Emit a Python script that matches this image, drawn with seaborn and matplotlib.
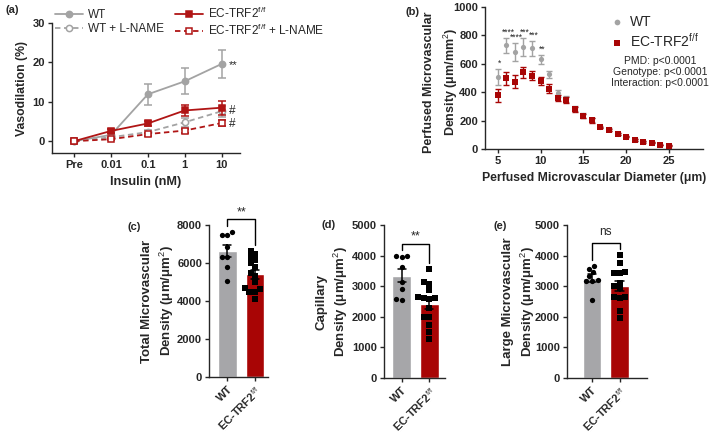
import numpy as np
import pandas as pd
import matplotlib
matplotlib.use("Agg")
import matplotlib.pyplot as plt
import seaborn as sns

# ---- (a) insulin-stimulated vasodilation, mean +/- SEM
doses = ["Pre", "0.01", "0.1", "1", "10"]
wt_vaso = [0, 1.6, 11.9, 15.2, 19.6]
wt_vaso_se = [0, 0.4, 2.6, 3.3, 3.6]
wt_lname_vaso = [0, 1.0, 2.3, 4.8, 7.6]
wt_lname_se = [0, 0.3, 0.5, 1.2, 1.4]
ec_vaso = [0, 2.6, 4.5, 7.8, 8.5]
ec_vaso_se = [0, 0.5, 0.6, 1.3, 1.8]
ec_lname_vaso = [0, 0.5, 1.8, 2.7, 4.6]
ec_lname_se = [0, 0.2, 0.4, 0.5, 0.8]

# ---- (b) perfused microvascular density by diameter
diam = list(range(5, 26))
wt_pmd = [509, 730, 684, 719, 708, 631, 526, 393, 352, 283, 236, 203, 153, 138, 107, 87, 64, 50, 45, 29, 24]
wt_pmd_se = [55, 55, 65, 65, 50, 30, 25, 25, 20, 18, 15, 15, 8, 8, 6, 6, 5, 4, 4, 3, 3]
ec_pmd = [379, 498, 475, 540, 516, 479, 426, 359, 347, 280, 234, 201, 152, 136, 105, 86, 63, 49, 44, 28, 23]
ec_pmd_se = [45, 45, 45, 40, 30, 30, 30, 20, 20, 18, 15, 15, 6, 6, 6, 5, 5, 4, 4, 3, 3]
pmd_stars = {5: "*", 6: "****", 7: "****", 8: "***", 9: "***", 10: "**"}

# ---- (c)-(e) individual animals
groups = ["WT", "EC-TRF2$^{\\mathrm{f/f}}$"]
total_wt = [7650, 7470, 7470, 6860, 6330, 6320, 5800, 5050]
total_ec = [6650, 6470, 6330, 6160, 5980, 5800, 5500, 5320, 5020, 4670, 4610, 4490, 4490, 4090]
cap_wt = [3990, 3950, 3990, 3640, 3150, 2910, 2550, 2580]
cap_ec = [3560, 3150, 3070, 2880, 2600, 2580, 2600, 2650, 2280, 2000, 2000, 1730, 1510, 1290]
large_wt = [3560, 3660, 3450, 3330, 3200, 3180, 3180, 2550]
large_ec = [4020, 3770, 3440, 3480, 3420, 3100, 3000, 2930, 2640, 2620, 2660, 2200, 1950]

gray = "#a6a6a9"
gray_line = "#a3a3a3"
red = "#a80505"
red_line = "#b01515"

sns.set_style("ticks")
plt.rcParams["font.family"] = ["Liberation Sans", "DejaVu Sans"]
plt.rcParams["mathtext.fontset"] = "custom"
plt.rcParams["mathtext.rm"] = "Liberation Sans"
plt.rcParams["mathtext.bf"] = "Liberation Sans:bold"
plt.rcParams["axes.linewidth"] = 1.0
plt.rcParams["xtick.major.size"] = 3
plt.rcParams["ytick.major.size"] = 3

W, H = 709, 434
fig = plt.figure(figsize=(W / 100, H / 100), dpi=100)


def add_ax(l, t, r, b):
    return fig.add_axes([l / W, 1 - b / H, (r - l) / W, (b - t) / H])


def style_ticks(ax, size=8):
    for lab in ax.get_xticklabels() + ax.get_yticklabels():
        lab.set_fontweight("bold")
        lab.set_fontsize(size)
    ax.tick_params(width=1, pad=2)


# ================= (a)
ax_a = add_ax(52, 23, 240, 153)
x_idx = np.arange(len(doses))
series_a = [
    ("WT", wt_vaso, wt_vaso_se, gray_line, "-", "o", gray_line),
    ("WT + L-NAME", wt_lname_vaso, wt_lname_se, gray_line, (0, (3, 2)), "o", "white"),
    ("EC-TRF2$^{\\mathrm{f/f}}$", ec_vaso, ec_vaso_se, red_line, "-", "s", red_line),
    ("EC-TRF2$^{\\mathrm{f/f}}$ + L-NAME", ec_lname_vaso, ec_lname_se, red_line, (0, (3, 2)), "s", "white"),
]
for label, y, se, c, ls, m, fc in series_a:
    ax_a.errorbar(x_idx, y, yerr=se, fmt="none", ecolor=c, elinewidth=1.1, capsize=3, capthick=1.1)
    sns.lineplot(x=x_idx, y=y, ax=ax_a, color=c, linestyle=ls, marker=m,
                 markerfacecolor=fc, markeredgecolor=c, markersize=4.5,
                 markeredgewidth=1.1, linewidth=1.3, label=label, legend=False)
ax_a.set_xlim(-0.6, 4.5)
ax_a.set_ylim(-3, 30)
ax_a.set_xticks(x_idx)
ax_a.set_xticklabels(doses)
ax_a.set_yticks([0, 10, 20, 30])
ax_a.set_xlabel("Insulin (nM)", fontsize=9.2, fontweight="bold", labelpad=4)
ax_a.set_ylabel("Vasodilation (%)", fontsize=8.8, fontweight="bold", labelpad=3)
style_ticks(ax_a)
sns.despine(ax=ax_a)
ax_a.text(x_idx[-1] + 0.2, wt_vaso[-1] - 0.3, "**", fontsize=8, va="center", ha="left")
ax_a.text(x_idx[-1] + 0.2, wt_lname_vaso[-1], "#", fontsize=8.5, va="center", ha="left")
ax_a.text(x_idx[-1] + 0.2, ec_lname_vaso[-1] - 0.3, "#", fontsize=8.5, va="center", ha="left")
handles, labels = ax_a.get_legend_handles_labels()
fig.legend(handles, labels, loc="upper left", bbox_to_anchor=(55 / W, 1 - 6 / H),
           ncol=2, frameon=False, fontsize=8.5, handlelength=2.4, handletextpad=0.4,
           columnspacing=0.9, labelspacing=0.15, borderpad=0, borderaxespad=0)
fig.text(5 / W, 1 - 10 / H, "(a)", fontsize=8, fontweight="bold", va="center")

# ================= (b)
bl, bt, br, bb = 485, 7, 703, 149
ax_b = add_ax(bl, bt, br, bb)
ax_b.errorbar(diam, wt_pmd, yerr=wt_pmd_se, fmt="none", ecolor=gray_line, elinewidth=1, capsize=2.5, capthick=1)
sns.scatterplot(x=diam, y=wt_pmd, ax=ax_b, color=gray_line, marker="o", s=14, linewidth=0, label="WT", zorder=3)
ax_b.errorbar(diam, ec_pmd, yerr=ec_pmd_se, fmt="none", ecolor=red, elinewidth=1, capsize=2.5, capthick=1)
sns.scatterplot(x=diam, y=ec_pmd, ax=ax_b, color=red, marker="s", s=16, linewidth=0,
                label="EC-TRF2$^{\\mathrm{f/f}}$", zorder=4)
for d, s in pmd_stars.items():
    i = diam.index(d)
    ax_b.text(d + 0.2, wt_pmd[i] + wt_pmd_se[i] + 8, s, fontsize=6.2, ha="center", va="bottom")
ax_b.set_xlim(3.5, 29)
ax_b.set_ylim(0, 1000)
ax_b.set_xticks([5, 10, 15, 20, 25])
ax_b.set_yticks([0, 200, 400, 600, 800, 1000])
ax_b.set_xlabel("Perfused Microvascular Diameter (μm)", fontsize=8.8, fontweight="bold", labelpad=4)
ax_b.set_ylabel("Perfused Microvascular\nDensity (μm/mm$^2$)", fontsize=9.0, fontweight="bold",
                linespacing=1.5)
ax_b.yaxis.set_label_coords((460 - bl) / (br - bl), 0.47)
style_ticks(ax_b)
sns.despine(ax=ax_b)
ax_b.legend(loc="upper left", bbox_to_anchor=(604 / W, 1 - 8 / H), bbox_transform=fig.transFigure,
            frameon=False, fontsize=10, handlelength=0.8, handletextpad=0.6,
            labelspacing=0.2, borderpad=0, markerscale=1.1)
fig.text(660 / W, 1 - 72 / H, "PMD: p<0.0001\nGenotype: p<0.0001\nInteraction: p<0.0001",
         fontsize=7.5, ha="center", va="center", linespacing=1.1)
fig.text(405 / W, 1 - 12 / H, "(b)", fontsize=8, fontweight="bold", va="center")

# ================= (c)-(e)
bar_panels = [
    ((209, 225, 268, 377), (-0.66, 1.47), total_wt, total_ec, 8000, 2000,
     "Total Microvascular\nDensity (μm/μm$^2$)", "**", 176, (128, 227), "(c)"),
    ((384, 225, 445, 378), (-0.64, 1.57), cap_wt, cap_ec, 5000, 1000,
     "Capillary\nDensity (μm/μm$^2$)", "**", 350, (321, 225), "(d)"),
    ((567, 225, 647, 378), (-0.91, 2.0), large_wt, large_ec, 5000, 1000,
     "Large Microvascular\nDensity (μm/μm$^2$)", "ns", 537, (494, 226), "(e)"),
]
for rect, xl, v_wt, v_ec, ymax, ystep, ylab, sig, ylab_x, lab_pos, lab in bar_panels:
    ax = add_ax(*rect)
    df = pd.DataFrame({
        "group": [groups[0]] * len(v_wt) + [groups[1]] * len(v_ec),
        "value": v_wt + v_ec,
    })
    sns.barplot(data=df, x="group", y="value", hue="group", order=groups, hue_order=groups,
                palette=[gray, red], saturation=1, errorbar="se", capsize=0.3, width=0.67,
                legend=False, err_kws={"color": "black", "linewidth": 1.1}, ax=ax)
    for g, m in zip(groups, ["o", "s"]):
        sns.swarmplot(data=df[df["group"] == g], x="group", y="value", order=groups,
                      color="black", marker=m, size=3.8, ax=ax, zorder=5)
    ax.set_xlim(*xl)
    ax.set_ylim(0, ymax)
    ax.set_yticks(np.arange(0, ymax + 1, ystep))
    ax.set_xlabel("")
    ax.set_ylabel(ylab, fontsize=9.5, fontweight="bold", linespacing=1.35)
    ax.yaxis.set_label_coords((ylab_x - rect[0]) / (rect[2] - rect[0]), 0.5)
    ax.set_xticks([0, 1])
    ax.set_xticklabels(groups, rotation=45, ha="right", rotation_mode="anchor")
    style_ticks(ax)
    sns.despine(ax=ax)
    # significance bracket
    top = max(max(v_wt), max(v_ec)) + 0.08 * ymax
    ax.plot([0, 0, 1, 1], [max(v_wt) + 0.04 * ymax, top, top, max(v_ec) + 0.04 * ymax],
            color="black", linewidth=1, clip_on=False)
    if sig == "ns":
        ax.text(0.5, top + 0.03 * ymax, sig, fontsize=8.5, ha="center", va="bottom")
    else:
        ax.text(0.5, top + 0.01 * ymax, sig, fontsize=9, ha="center", va="bottom")
    fig.text(lab_pos[0] / W, 1 - lab_pos[1] / H, lab, fontsize=8, fontweight="bold", va="center")

fig.savefig("out.png", dpi=100)
